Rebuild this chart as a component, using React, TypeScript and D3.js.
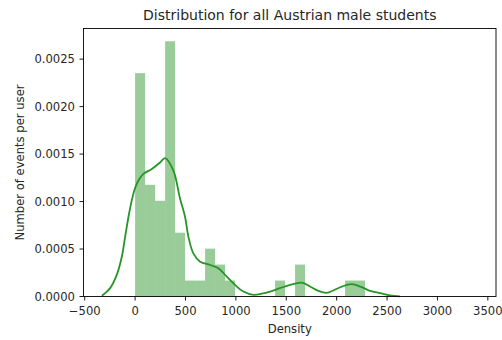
import React from "react";
import * as d3 from "d3";

// Histogram: counts per equal-width bin starting at 0
const binStart = 0;
const binWidth = 99.2;
const binCounts = [14, 7, 6, 16, 4, 1, 1, 3, 2, 1, 0, 0, 0, 0, 1, 0, 2, 0, 0, 0, 0, 1, 1];
const sampleSize = 60;

// Kernel density estimate, sampled along x
const kdeX = [
  -330, -248, -182, -132, -99, -66, -33, 0, 33, 82, 166, 248, 298, 380, 446, 496, 529, 578,
  645, 744, 826, 910, 992, 1074, 1174, 1257, 1339, 1438, 1538, 1654, 1736, 1818, 1902, 1967,
  2051, 2150, 2249, 2331, 2431, 2530, 2629,
];
const kdeY = [
  0.07, 0.88, 2.27, 4.18, 6.28, 8.37, 10.12, 11.42, 12.21, 12.91, 13.43, 14.12, 14.58, 13.25,
  10.32, 8.37, 6.28, 4.54, 3.66, 3.32, 2.97, 2.09, 1.22, 0.52, 0.18, 0.3, 0.52, 0.88, 1.22,
  1.46, 1.05, 0.6, 0.39, 0.63, 1.05, 1.3, 0.98, 0.6, 0.36, 0.13, 0.02,
].map((v) => v * 1e-4);

const xTicks = [-500, 0, 500, 1000, 1500, 2000, 2500, 3000, 3500];
const yTicks = [0, 0.0005, 0.001, 0.0015, 0.002, 0.0025];

const title = "Distribution for all Austrian male students";
const xLabel = "Density";
const yLabel = "Number of events per user";

const W = 502;
const H = 340;
const plot = { left: 83.5, right: 496, top: 28.5, bottom: 296.5 };
const font = "'DejaVu Sans', sans-serif";
const barColor = "#008000";
const lineColor = "#259525";
const ink = "#262626";
const tickSize = 11.6;

export default function App() {
  const x = d3.scaleLinear().domain([-512, 3581]).range([plot.left, plot.right]);
  const yMax = (d3.max(binCounts)! / (sampleSize * binWidth)) * 1.05;
  const y = d3.scaleLinear().domain([0, yMax]).range([plot.bottom, plot.top]);

  const bars = binCounts.map((c, i) => ({
    x0: binStart + i * binWidth,
    x1: binStart + (i + 1) * binWidth,
    d: c / (sampleSize * binWidth),
  }));

  const line = d3
    .line<number>()
    .x((_, i) => x(kdeX[i]))
    .y((v) => y(v))
    .curve(d3.curveCatmullRom.alpha(0.5));

  const fmt = d3.format(".4f");
  const fmtX = (v: number) => (v < 0 ? "\u2212" + Math.abs(v) : String(v));

  return (
    <svg
      width={W}
      height={H}
      style={{ position: "absolute", left: 0, top: 0, background: "#fff" }}
      fontFamily={font}
    >
      <rect width={W} height={H} fill="#fff" />
      {bars
        .filter((b) => b.d > 0)
        .map((b, i) => (
          <rect
            key={i}
            x={x(b.x0)}
            y={y(b.d)}
            width={x(b.x1) - x(b.x0)}
            height={y(0) - y(b.d)}
            fill={barColor}
            fillOpacity={0.4}
          />
        ))}
      <path d={line(kdeY) ?? ""} fill="none" stroke={lineColor} strokeWidth={1.8} />

      <rect
        x={plot.left}
        y={plot.top}
        width={plot.right - plot.left}
        height={plot.bottom - plot.top}
        fill="none"
        stroke="#000"
        strokeWidth={0.9}
      />

      {xTicks.map((t) => (
        <g key={t} transform={`translate(${x(t)},${plot.bottom})`}>
          <line y2={4} stroke="#000" strokeWidth={0.9} />
          <text y={18.5} textAnchor="middle" fontSize={tickSize} fill={ink}>
            {fmtX(t)}
          </text>
        </g>
      ))}
      {yTicks.map((t) => (
        <g key={t} transform={`translate(${plot.left},${y(t)})`}>
          <line x2={-4} stroke="#000" strokeWidth={0.9} />
          <text x={-8.5} dy="0.36em" textAnchor="end" fontSize={tickSize} fill={ink}>
            {fmt(t)}
          </text>
        </g>
      ))}

      <text x={(plot.left + plot.right) / 2} y={20} textAnchor="middle" fontSize={14} fill={ink}>
        {title}
      </text>
      <text x={(plot.left + plot.right) / 2} y={332.5} textAnchor="middle" fontSize={tickSize} fill={ink}>
        {xLabel}
      </text>
      <text
        transform={`translate(24,${(plot.top + plot.bottom) / 2}) rotate(-90)`}
        textAnchor="middle"
        fontSize={tickSize}
        fill={ink}
      >
        {yLabel}
      </text>
    </svg>
  );
}
